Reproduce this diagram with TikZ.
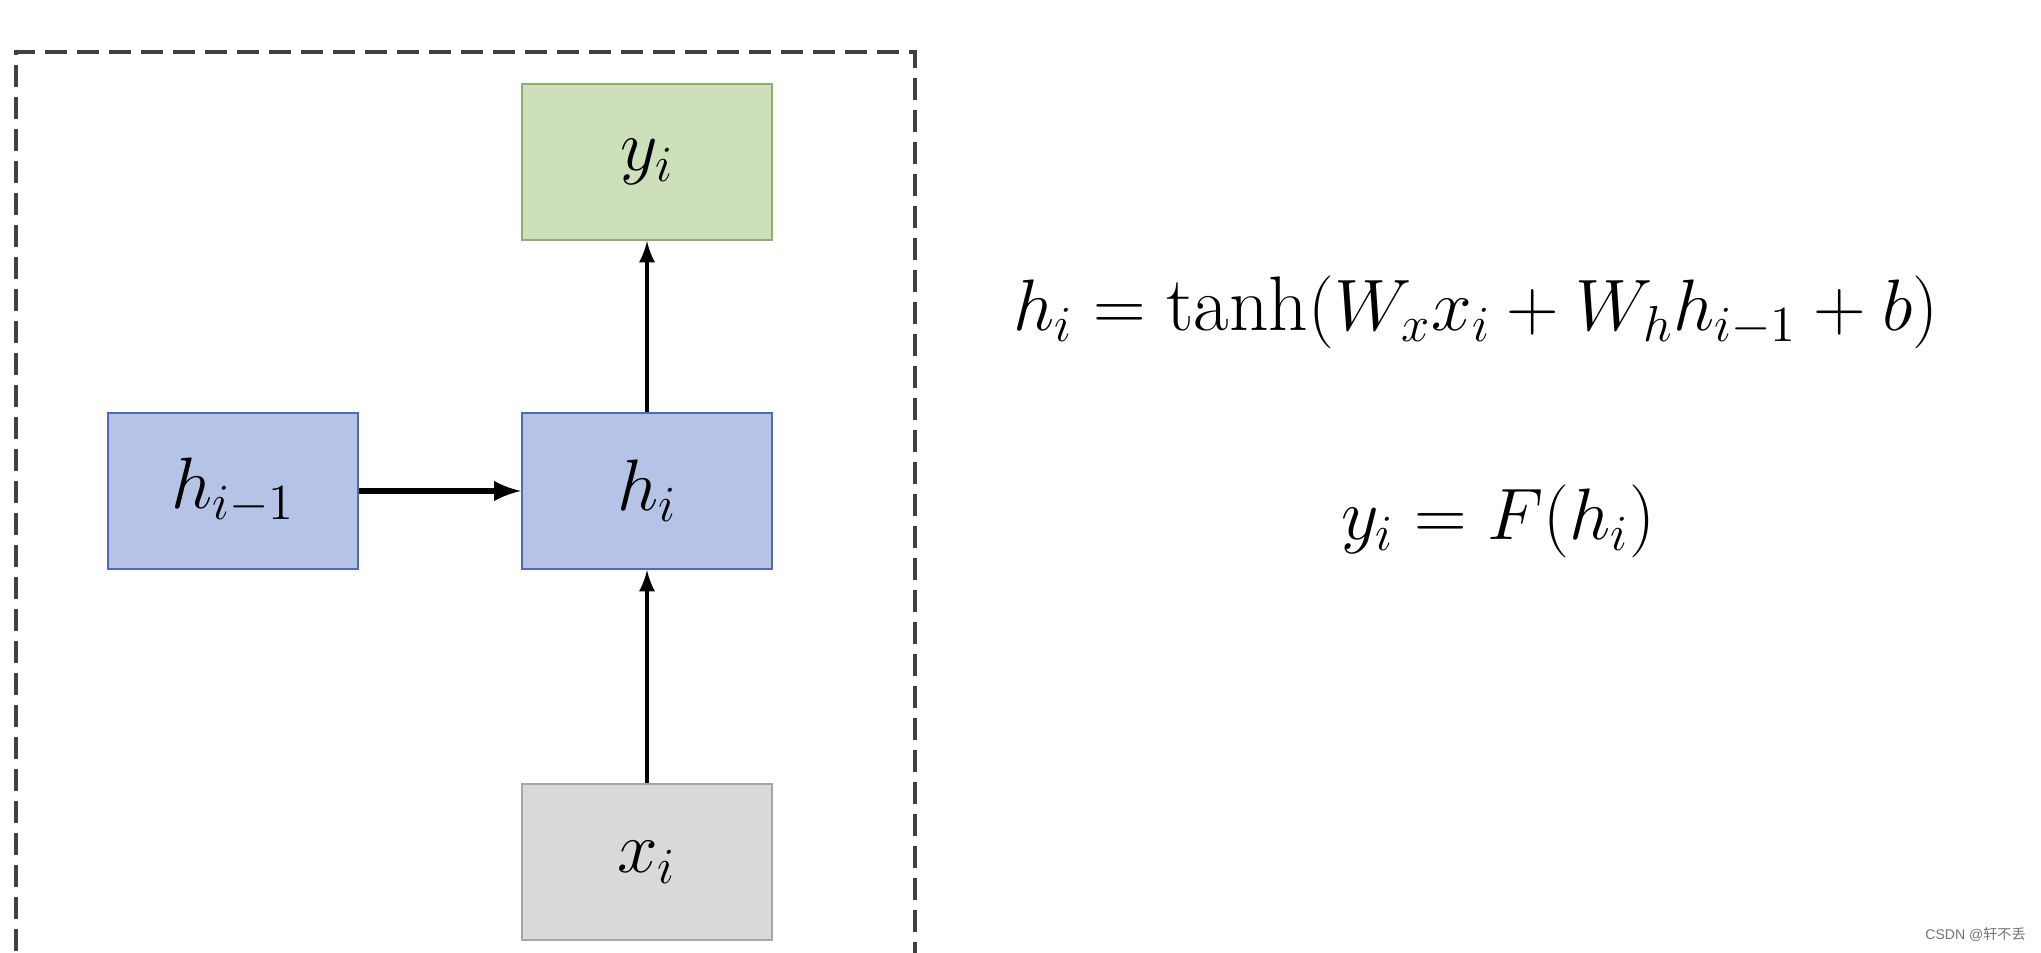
\documentclass[tikz,border=0pt]{standalone}
\usepackage{amsmath}
\usepackage{fontspec}
\newfontfamily\wmfont{Liberation Sans}
\newfontfamily\cjk{Noto Sans CJK SC}
\usepackage{tikz}
\usetikzlibrary{arrows}

\definecolor{ygreen}{HTML}{CDE0B9}
\definecolor{ygreenline}{HTML}{8DAE6F}
\definecolor{hblue}{HTML}{B5C4E6}
\definecolor{hblueline}{HTML}{4E6AB8}
\definecolor{xgrey}{HTML}{D9D9D9}
\definecolor{xgreyline}{HTML}{A6A6A6}

\begin{document}
\begin{tikzpicture}[scale = 1,
  cell/.style = {draw, line width=0.6pt, minimum width=2.5cm, minimum height=1.56cm, inner sep=0pt, font=\fontsize{21}{25}\selectfont},
  outcell/.style = {cell, fill=ygreen, draw=ygreenline},
  hidcell/.style = {cell, fill=hblue, draw=hblueline},
  incell/.style = {cell, fill=xgrey, draw=xgreyline},
  eqn/.style = {font=\fontsize{22}{26}\selectfont}]

\clip (0, 0) rectangle (20.41, 9.53);
\useasboundingbox (0, 0) rectangle (20.41, 9.53);

% dashed frame (bottom runs off the picture)
\draw[black!75, line width=0.9pt, dash pattern=on 0.22cm off 0.1cm] (0.16, -0.3) -- (0.16, 9.01) -- (9.15, 9.01) -- (9.15, -0.3);

\node[outcell] (yi) at (6.47, 7.91) {$y_i$};
\node[hidcell] (hprev) at (2.33, 4.62) {$h_{i-1}$};
\node[hidcell] (hi) at (6.47, 4.62) {$h_i$};
\node[incell] (xi) at (6.47, 0.91) {$x_i$};

\draw[-latex, line width=1.6pt] (hprev) -- (hi);
\draw[-latex, line width=1.1pt] (hi) -- (yi);
\draw[-latex, line width=1.1pt] (xi) -- (hi);

\node[eqn] (eqh) at (14.76, 6.41) {$h_i = \tanh(W_x x_i + W_h h_{i-1} + b)$};
\node[eqn] (eqy) at (14.98, 4.32) {$y_i = F(h_i)$};

\node[anchor=east, text=black!55, font=\fontsize{4}{5}\selectfont] (mark) at (20.38, 0.18) {\wmfont CSDN @\cjk 轩不丢};

\end{tikzpicture}
\end{document}
